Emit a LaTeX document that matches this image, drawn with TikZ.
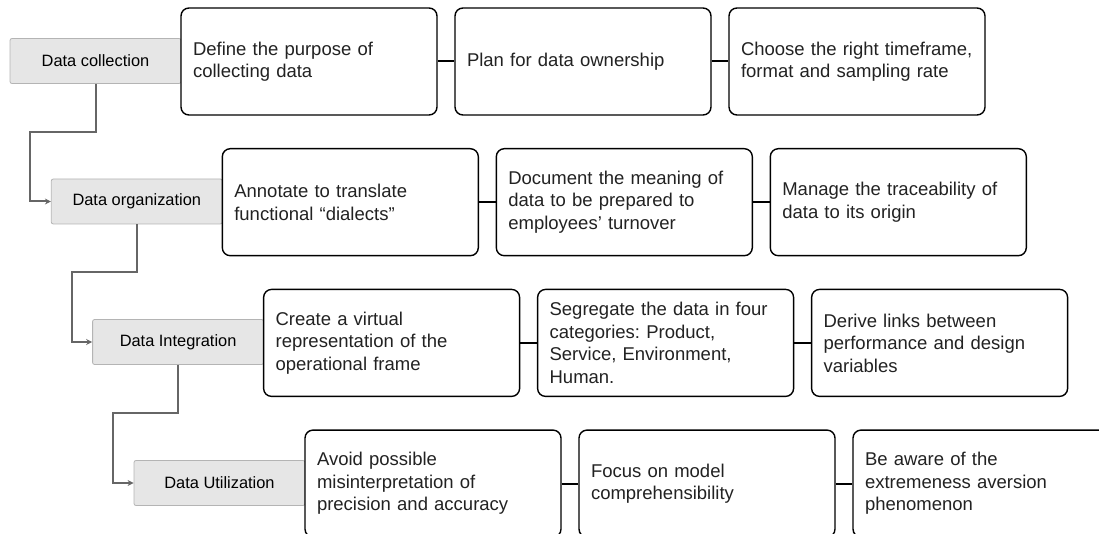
\documentclass[tikz,border=0pt]{standalone}
\usepackage{fontspec}
\setmainfont{Liberation Sans}
\usetikzlibrary{arrows.meta}
\definecolor{labelfill}{HTML}{E6E6E6}
\definecolor{labeledge}{HTML}{B4B4B4}
\definecolor{flowgray}{HTML}{666666}
\definecolor{inktext}{HTML}{222222}
\frenchspacing
\begin{document}
\begin{tikzpicture}[x=1pt,y=-1pt,
  stage/.style={rectangle, rounded corners=2pt, draw=labeledge, line width=0.8pt,
    fill=labelfill, minimum width=171pt, minimum height=45pt, inner sep=0pt,
    font=\fontsize{16.4}{19}\selectfont, text=black},
  stepbox/.style={rectangle, rounded corners=8pt, draw=black, line width=1.4pt,
    fill=white, minimum height=107pt, text width=232pt, inner xsep=12pt,
    inner ysep=0pt, align=left, text=inktext,
    font=\fontsize{18.5}{22.5}\selectfont},
  link/.style={draw=black, line width=2pt},
  flow/.style={draw=flowgray, line width=2pt,
    -{Stealth[length=6pt,width=6pt]}}]
\useasboundingbox (0,0) rectangle (1099,534);
\clip (0,0) rectangle (1099,534);

% stage labels (drawn first so the step boxes overlap them)
\node[stage] (s1) at (95.5,61) {Data collection};
\node[stage] (s2) at (136.8,201.5) {Data organization};
\node[stage] (s3) at (178.1,342) {Data Integration};
\node[stage] (s4) at (219.5,483) {Data Utilization};

% row 1
\node[stepbox] (a1) at (309,61.5) {Define the purpose of\\collecting data};
\node[stepbox] (a2) at (583,61.5) {Plan for data ownership};
\node[stepbox] (a3) at (857,61.5) {Choose the right timeframe,\\format and sampling rate};
% row 2
\node[stepbox] (b1) at (350.3,202.2) {Annotate to translate\\functional “dialects”};
\node[stepbox] (b2) at (624.3,202.2) {Document the meaning of\\data to be prepared to\\employees’ turnover};
\node[stepbox] (b3) at (898.3,202.2) {Manage the traceability of\\data to its origin};
% row 3
\node[stepbox] (c1) at (391.6,342.9) {Create a virtual\\representation of the\\operational frame};
\node[stepbox] (c2) at (665.6,342.9) {Segregate the data in four\\categories: Product,\\Service, Environment,\\Human.};
\node[stepbox] (c3) at (939.6,342.9) {Derive links between\\performance and design\\variables};
% row 4
\node[stepbox] (d1) at (433,483.6) {Avoid possible\\misinterpretation of\\precision and accuracy};
\node[stepbox] (d2) at (707,483.6) {Focus on model\\comprehensibility};
\node[stepbox] (d3) at (981,483.6) {Be aware of the\\extremeness aversion\\phenomenon};

% links between steps of a row
\path[link] (a1) -- (a2); \path[link] (a2) -- (a3);
\path[link] (b1) -- (b2); \path[link] (b2) -- (b3);
\path[link] (c1) -- (c2); \path[link] (c2) -- (c3);
\path[link] (d1) -- (d2); \path[link] (d2) -- (d3);

% elbow arrows from one stage to the next
\coordinate (k1) at (30.3,131.8);
\coordinate (k2) at (71.6,272.5);
\coordinate (k3) at (113,413.2);
\draw[flow] (s1.south) |- (k1) |- (s2.west);
\draw[flow] (s2.south) |- (k2) |- (s3.west);
\draw[flow] (s3.south) |- (k3) |- (s4.west);
\end{tikzpicture}
\end{document}
